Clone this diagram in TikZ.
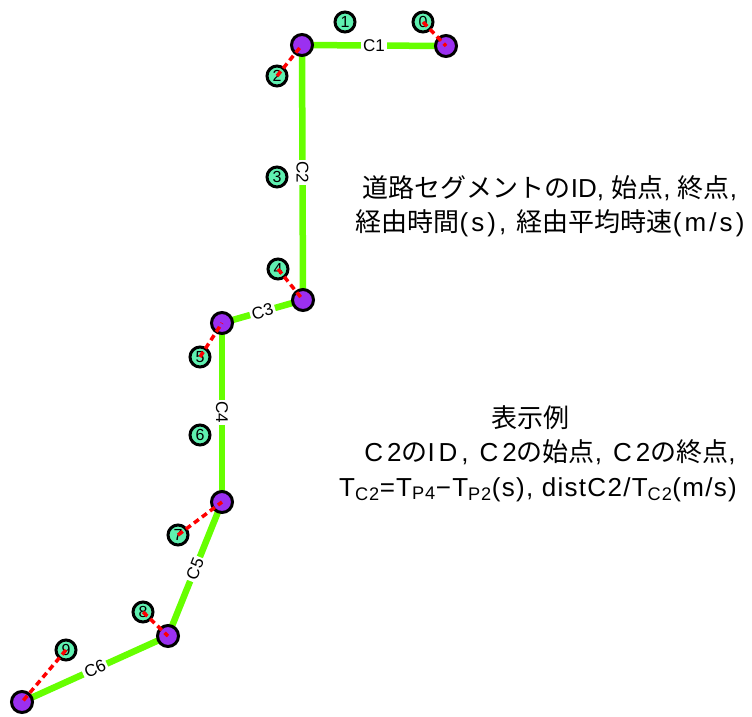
\documentclass[tikz,border=0pt]{standalone}
\usepackage{fontspec}
\setmainfont{Liberation Sans}
\newfontfamily\jpfont{Noto Sans CJK JP}
\newfontfamily\latA[LetterSpace=12]{Liberation Sans}
\newfontfamily\latB[LetterSpace=15]{Liberation Sans}
\newfontfamily\latC[LetterSpace=5]{Liberation Sans}
\newcommand{\J}[1]{{\jpfont #1}}
\definecolor{segGreen}{HTML}{66FF00}
\definecolor{ptGreen}{HTML}{5FF0B0}
\definecolor{ptPurple}{HTML}{9B30F0}
\begin{document}
\begin{tikzpicture}[x=1pt,y=-1pt,
  seg/.style={draw=segGreen, line width=6.5pt},
  seglabel/.style={fill=white, inner sep=2pt, text=black, font=\fontsize{17}{17}\selectfont},
  gps/.style={circle, draw=black, line width=3pt, fill=ptGreen, minimum size=20pt, inner sep=0pt, font=\fontsize{16}{16}\selectfont},
  junc/.style={circle, draw=black, line width=3pt, fill=ptPurple, minimum size=21pt, inner sep=0pt},
  match/.style={draw=red, line width=3.5pt, dash pattern=on 6pt off 4pt},
  jtext/.style={font=\fontsize{26}{33}\selectfont, inner sep=0pt, anchor=base}]
\useasboundingbox (0,0) rectangle (752,716);
% junction coordinates
\coordinate (pa) at (302,45);
\coordinate (pb) at (446,46);
\coordinate (pc) at (303,300);
\coordinate (pd) at (222,323);
\coordinate (pe) at (222,502);
\coordinate (pf) at (168,636);
\coordinate (pg) at (22,702);
% segments
\draw[seg] (pa) -- node[seglabel]{C1} (pb);
\draw[seg] (pa) -- node[seglabel, rotate=-90]{C2} (pc);
\draw[seg] (pd) -- node[seglabel, sloped]{C3} (pc);
\draw[seg] (pd) -- node[seglabel, rotate=-90]{C4} (pe);
\draw[seg] (pf) -- node[seglabel, sloped]{C5} (pe);
\draw[seg] (pg) -- node[seglabel, sloped]{C6} (pf);
% junction nodes
\node[junc] (ja) at (pa) {};
\node[junc] (jb) at (pb) {};
\node[junc] (jc) at (pc) {};
\node[junc] (jd) at (pd) {};
\node[junc] (je) at (pe) {};
\node[junc] (jf) at (pf) {};
\node[junc] (jg) at (pg) {};
% gps points
\node[gps] (g0) at (423,22) {0};
\node[gps] (g1) at (345,22) {1};
\node[gps] (g2) at (277,76) {2};
\node[gps] (g3) at (277,177) {3};
\node[gps] (g4) at (278,269) {4};
\node[gps] (g5) at (200,357) {5};
\node[gps] (g6) at (200,435) {6};
\node[gps] (g7) at (178,535) {7};
\node[gps] (g8) at (143,612) {8};
\node[gps] (g9) at (66,650) {9};
% matching lines
\draw[match] (g0.center) -- (jb.center);
\draw[match] (g2.center) -- (ja.center);
\draw[match] (g4.center) -- (jc.center);
\draw[match] (g5.center) -- (jd.center);
\draw[match] (g7.center) -- (je.center);
\draw[match] (g8.center) -- (jf.center);
\draw[match] (g9.center) -- (jg.center);
% texts
\node[jtext] (t1) at (550,197) {\J{道路セグメントの}ID, \J{始点}, \J{終点},};
\node[jtext] (t2) at (550,231) {\latA\J{経由時間}(s), \J{経由平均時速}(m/s)};
\node[jtext] (t3) at (530,427) {\J{表示例}};
\node[jtext] (t4) at (550,461) {\latB C2\J{の}ID, C2\J{の始点}, C2\J{の終点},};
\node[jtext] (t5) at (538,496) {\latC T\textsubscript{C2}=T\textsubscript{P4}−T\textsubscript{P2}(s), distC2/T\textsubscript{C2}(m/s)};
\end{tikzpicture}
\end{document}
